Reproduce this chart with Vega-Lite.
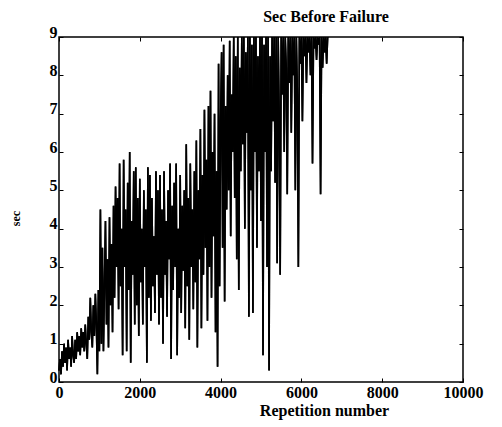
{
  "$schema": "https://vega.github.io/schema/vega-lite/v6.json",
  "autosize": {"type": "none"},
  "padding": {"left": 59, "top": 37, "right": 39, "bottom": 45},
  "width": 404,
  "height": 345,
  "background": "white",
  "title": {"text": "Sec Before Failure", "font": "Liberation Serif", "fontSize": 16, "fontWeight": "bold", "color": "black", "anchor": "middle", "dx": 65, "offset": -1},
  "config": {"view": {"stroke": "black", "strokeWidth": 1.5}},
  "data": {"values": [
    {"x":0,"y":0.3},{"x":25,"y":0.6},{"x":50,"y":0.2},{"x":75,"y":0.8},{"x":100,"y":0.4},{"x":125,"y":1.0},{"x":150,"y":0.5},{"x":175,"y":0.9},{"x":200,"y":0.3},{"x":225,"y":1.1},
    {"x":250,"y":0.6},{"x":275,"y":0.9},{"x":300,"y":0.4},{"x":325,"y":1.2},{"x":350,"y":0.7},{"x":375,"y":0.5},{"x":400,"y":1.1},{"x":425,"y":0.6},{"x":450,"y":1.3},{"x":475,"y":0.8},
    {"x":500,"y":1.2},{"x":525,"y":0.7},{"x":550,"y":1.4},{"x":575,"y":0.9},{"x":600,"y":1.3},{"x":625,"y":0.8},{"x":650,"y":1.5},{"x":675,"y":1.0},{"x":700,"y":0.6},{"x":725,"y":1.7},
    {"x":750,"y":1.1},{"x":775,"y":2.2},{"x":800,"y":1.3},{"x":825,"y":0.9},{"x":850,"y":2.0},{"x":875,"y":1.2},{"x":900,"y":2.3},{"x":925,"y":1.5},{"x":950,"y":0.2},{"x":975,"y":2.4},
    {"x":1000,"y":0.8},{"x":1025,"y":4.5},{"x":1050,"y":1.0},{"x":1075,"y":3.5},{"x":1100,"y":0.8},{"x":1125,"y":2.5},{"x":1150,"y":4.2},{"x":1175,"y":1.5},{"x":1200,"y":3.2},{"x":1225,"y":0.9},
    {"x":1250,"y":4.3},{"x":1275,"y":2.0},{"x":1300,"y":3.6},{"x":1325,"y":1.3},{"x":1350,"y":4.6},{"x":1375,"y":2.2},{"x":1400,"y":5.1},{"x":1425,"y":3.0},{"x":1450,"y":4.8},{"x":1475,"y":1.9},
    {"x":1500,"y":5.7},{"x":1525,"y":2.5},{"x":1550,"y":4.0},{"x":1575,"y":0.7},{"x":1600,"y":5.8},{"x":1625,"y":3.0},{"x":1650,"y":4.5},{"x":1675,"y":0.8},{"x":1700,"y":5.2},{"x":1725,"y":2.4},
    {"x":1750,"y":6.0},{"x":1775,"y":0.5},{"x":1800,"y":4.2},{"x":1825,"y":2.8},{"x":1850,"y":5.5},{"x":1875,"y":1.5},{"x":1900,"y":5.6},{"x":1925,"y":2.0},{"x":1950,"y":4.8},{"x":1975,"y":1.2},
    {"x":2000,"y":5.3},{"x":2025,"y":2.6},{"x":2050,"y":4.0},{"x":2075,"y":1.5},{"x":2100,"y":5.0},{"x":2125,"y":3.0},{"x":2150,"y":4.5},{"x":2175,"y":0.5},{"x":2200,"y":5.6},{"x":2225,"y":2.2},
    {"x":2250,"y":5.4},{"x":2275,"y":1.6},{"x":2300,"y":4.8},{"x":2325,"y":2.5},{"x":2350,"y":3.8},{"x":2375,"y":1.8},{"x":2400,"y":5.5},{"x":2425,"y":2.8},{"x":2450,"y":5.0},{"x":2475,"y":1.5},
    {"x":2500,"y":5.4},{"x":2525,"y":2.2},{"x":2550,"y":4.5},{"x":2575,"y":1.0},{"x":2600,"y":5.5},{"x":2625,"y":2.8},{"x":2650,"y":4.2},{"x":2675,"y":1.7},{"x":2700,"y":5.0},{"x":2725,"y":3.2},
    {"x":2750,"y":5.7},{"x":2775,"y":0.6},{"x":2800,"y":4.6},{"x":2825,"y":2.4},{"x":2850,"y":5.2},{"x":2875,"y":3.0},{"x":2900,"y":5.7},{"x":2925,"y":0.7},{"x":2950,"y":4.0},{"x":2975,"y":2.2},
    {"x":3000,"y":5.4},{"x":3025,"y":1.8},{"x":3050,"y":4.6},{"x":3075,"y":2.9},{"x":3100,"y":5.0},{"x":3125,"y":1.4},{"x":3150,"y":6.2},{"x":3175,"y":2.5},{"x":3200,"y":4.8},{"x":3225,"y":1.1},
    {"x":3250,"y":5.7},{"x":3275,"y":3.0},{"x":3300,"y":4.5},{"x":3325,"y":1.9},{"x":3350,"y":5.5},{"x":3375,"y":2.6},{"x":3400,"y":6.3},{"x":3425,"y":0.9},{"x":3450,"y":5.0},{"x":3475,"y":3.2},
    {"x":3500,"y":6.6},{"x":3525,"y":1.4},{"x":3550,"y":5.4},{"x":3575,"y":2.8},{"x":3600,"y":7.1},{"x":3625,"y":3.5},{"x":3650,"y":5.8},{"x":3675,"y":1.6},{"x":3700,"y":7.2},{"x":3725,"y":3.0},
    {"x":3750,"y":7.6},{"x":3775,"y":2.2},{"x":3800,"y":6.0},{"x":3825,"y":3.8},{"x":3850,"y":7.0},{"x":3875,"y":1.3},{"x":3900,"y":5.5},{"x":3925,"y":0.4},{"x":3950,"y":8.3},{"x":3975,"y":2.5},
    {"x":4000,"y":6.8},{"x":4025,"y":8.6},{"x":4050,"y":3.5},{"x":4075,"y":8.8},{"x":4100,"y":2.1},{"x":4125,"y":7.2},{"x":4150,"y":4.5},{"x":4175,"y":8.0},{"x":4200,"y":5.0},{"x":4225,"y":8.9},
    {"x":4250,"y":3.8},{"x":4275,"y":7.5},{"x":4300,"y":6.0},{"x":4325,"y":9},{"x":4350,"y":4.8},{"x":4375,"y":8.5},{"x":4400,"y":3.2},{"x":4425,"y":9},{"x":4450,"y":2.4},{"x":4475,"y":8.2},
    {"x":4500,"y":5.5},{"x":4525,"y":9},{"x":4550,"y":6.2},{"x":4575,"y":9},{"x":4600,"y":4.0},{"x":4625,"y":8.6},{"x":4650,"y":6.5},{"x":4675,"y":9},{"x":4700,"y":1.7},{"x":4725,"y":9},
    {"x":4750,"y":5.0},{"x":4775,"y":8.8},{"x":4800,"y":1.8},{"x":4825,"y":9},{"x":4850,"y":6.0},{"x":4875,"y":9},{"x":4900,"y":3.5},{"x":4925,"y":8.5},{"x":4950,"y":5.5},{"x":4975,"y":9},
    {"x":5000,"y":4.2},{"x":5025,"y":9},{"x":5050,"y":0.7},{"x":5075,"y":8.8},{"x":5100,"y":6.0},{"x":5125,"y":9},{"x":5150,"y":3.0},{"x":5175,"y":9},{"x":5200,"y":0.3},{"x":5225,"y":8.5},
    {"x":5250,"y":5.5},{"x":5275,"y":9},{"x":5300,"y":6.8},{"x":5325,"y":9},{"x":5350,"y":5.2},{"x":5375,"y":9},{"x":5400,"y":3.1},{"x":5425,"y":9},{"x":5450,"y":7.0},{"x":5475,"y":2.8},
    {"x":5500,"y":9},{"x":5525,"y":7.5},{"x":5550,"y":9},{"x":5575,"y":6.0},{"x":5600,"y":9},{"x":5625,"y":8.2},{"x":5650,"y":4.9},{"x":5675,"y":9},{"x":5700,"y":7.8},{"x":5725,"y":9},
    {"x":5750,"y":6.5},{"x":5775,"y":9},{"x":5800,"y":8.0},{"x":5825,"y":9},{"x":5850,"y":5.0},{"x":5875,"y":9},{"x":5900,"y":7.5},{"x":5925,"y":3.0},{"x":5950,"y":9},{"x":5975,"y":8.3},
    {"x":6000,"y":9},{"x":6025,"y":6.8},{"x":6050,"y":9},{"x":6075,"y":8.5},{"x":6100,"y":9},{"x":6125,"y":7.8},{"x":6150,"y":9},{"x":6175,"y":8.6},{"x":6200,"y":9},{"x":6225,"y":8.0},
    {"x":6250,"y":9},{"x":6275,"y":5.7},{"x":6300,"y":9},{"x":6325,"y":8.7},{"x":6350,"y":9},{"x":6375,"y":8.4},{"x":6400,"y":9},{"x":6425,"y":8.8},{"x":6450,"y":9},{"x":6475,"y":4.9},
    {"x":6500,"y":9},{"x":6525,"y":8.2},{"x":6550,"y":9},{"x":6575,"y":8.6},{"x":6600,"y":9},{"x":6625,"y":8.3},{"x":6650,"y":9}
  ]},
  "layer": [
    {
      "mark": {"type": "line", "color": "black", "strokeWidth": 1.6},
      "encoding": {
        "x": {"field": "x", "type": "quantitative", "scale": {"domain": [0, 10000], "nice": false, "zero": false},
          "axis": {"orient": "bottom", "values": [0, 2000, 4000, 6000, 8000, 10000], "format": "d", "title": "Repetition number", "titleFont": "Liberation Serif", "titleFontSize": 16, "titleFontWeight": "bold", "titleColor": "black", "titleX": 265, "titleY": 20,
            "labelFont": "Liberation Serif", "labelFontSize": 16, "labelFontWeight": "bold", "labelColor": "black", "labelPadding": 6, "tickSize": -4, "tickColor": "black", "domain": false, "grid": false, "labelFlush": false, "labelOverlap": false}},
        "y": {"field": "y", "type": "quantitative", "scale": {"domain": [0, 9], "nice": false},
          "axis": {"orient": "left", "values": [0, 1, 2, 3, 4, 5, 6, 7, 8, 9], "title": "sec", "titleFont": "Liberation Serif", "titleFontSize": 12, "titleFontWeight": "bold", "titleColor": "black", "titleX": -37, "titleY": 181,
            "labelFont": "Liberation Serif", "labelFontSize": 16, "labelFontWeight": "bold", "labelColor": "black", "labelPadding": 6, "labelBaseline": "alphabetic", "tickSize": -4, "tickColor": "black", "domain": false, "grid": false, "labelFlush": false, "labelOverlap": false}}
      }
    },
    {
      "mark": {"type": "line", "color": "black", "strokeWidth": 1.6},
      "encoding": {
        "x": {"field": "x", "type": "quantitative", "axis": {"orient": "top", "values": [0, 2000, 4000, 6000, 8000, 10000], "labels": false, "title": null, "tickSize": -4, "tickColor": "black", "domain": false, "grid": false}},
        "y": {"field": "y", "type": "quantitative", "axis": {"orient": "right", "values": [0, 1, 2, 3, 4, 5, 6, 7, 8, 9], "labels": false, "title": null, "tickSize": -4, "tickColor": "black", "domain": false, "grid": false}}
      }
    }
  ],
  "resolve": {"axis": {"x": "independent", "y": "independent"}}
}
